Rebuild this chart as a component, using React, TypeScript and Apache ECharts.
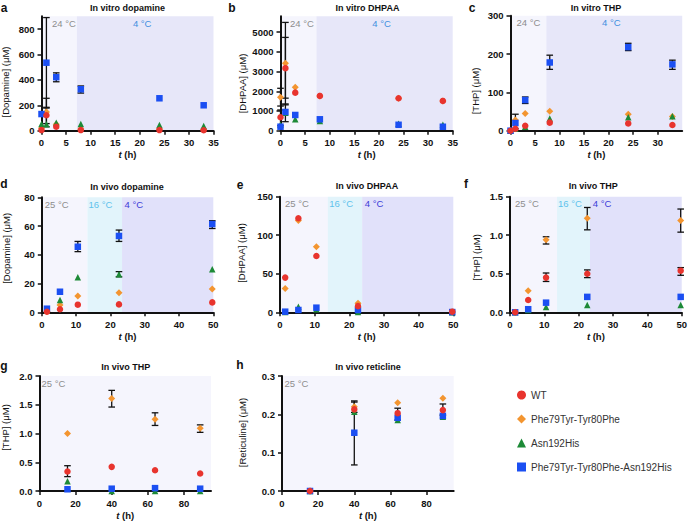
import React, { useEffect, useRef } from "react";
import * as echarts from "echarts";

const FONT = "'Liberation Sans', Arial, Helvetica, sans-serif";

// ---------- legend / series identity ----------
const seriesNames = ["WT", "Phe79Tyr-Tyr80Phe", "Asn192His", "Phe79Tyr-Tyr80Phe-Asn192His"];
const seriesColors = ["#e8342e", "#f39530", "#1d8a37", "#1b4ff2"];
const seriesSymbols = ["circle", "diamond", "triangle", "rect"];
const symbolSizes = [6.5, 7, 6.5, 6.5];
const drawOrder = [1, 2, 3, 0];

// ---------- time points ----------
const tVitro = [0, 1, 3, 8, 24, 33];
const tVivo = [1.5, 5.3, 10.5, 22.5, 49.7];
const tLong = [15.5, 40, 64, 89];

// ---------- tick labels ----------
const xTicksVitro = [0, 5, 10, 15, 20, 25, 30, 35];
const xTicksVitroC = [0, 5, 10, 15, 20, 25, 30];
const xTicksVivo = [0, 10, 20, 30, 40, 50];
const xTicksLong = [0, 20, 40, 60, 80];
const yTicksA = [0, 200, 400, 600, 800];
const yTicksB = [0, 1000, 2000, 3000, 4000, 5000];
const yTicksC = [0, 100, 200, 300];
const yTicksD = [0, 20, 40, 60, 80];
const yTicksE = [0, 50, 100, 150];
const yTicksF = [0, 0.5, 1.0, 1.5];
const yTicksG = [0, 0.5, 1.0, 1.5, 2.0];
const yTicksH = [0, 0.1, 0.2, 0.3];

// ---------- a: in vitro dopamine ----------
const aWT = [5, 122, 31, 5, 5, 4];
const aDouble = [20, 148, 50, 14, 14, 10];
const aAsn = [52, 50, 63, 52, 45, 37];
const aTriple = [131, 535, 421, 326, 255, 200];
const aErr = [[1, 178, 890], [1, 31, 255], [1, 56, 184], [3, 385, 455], [8, 296, 352]];

// ---------- b: in vitro DHPAA ----------
const bWT = [680, 3170, 1930, 1763, 1646, 1509];
const bDouble = [1697, 3425, 2205, 1763, 1646, 1509];
const bAsn = [300, 915, 578, 493, 350, 300];
const bTriple = [203, 950, 797, 578, 300, 200];
const bErr = [[1, 1310, 5490], [1, 1650, 4730], [1, 457, 1357], [0, 1250, 2150], [0, 250, 1050]];

// ---------- c: in vitro THP ----------
const cWT = [0, 5, 13, 21, 19, 15];
const cDouble = [0, 28, 45, 51, 43, 37];
const cAsn = [0, 5, 10, 32, 35, 38];
const cTriple = [0, 20, 80, 178, 218, 173];
const cErr = [[1, 5, 43], [3, 71, 88], [8, 160, 197], [24, 209, 228], [33, 160, 184]];

// ---------- d: in vivo dopamine ----------
const dWT = [0.4, 2.1, 5.3, 5.5, 6.9];
const dDouble = [0.5, 5.1, 11.3, 13.6, 16.2];
const dAsn = [1, 8.6, 24.3, 26.5, 29.9];
const dTriple = [2.5, 14.3, 45.6, 53.1, 61.4];
const dErr = [[10.5, 42.2, 49.3], [22.5, 49.3, 57.2], [22.5, 24.7, 28.3], [49.7, 58.3, 63.7]];

// ---------- e: in vivo DHPAA ----------
const eWT = [45, 122, 73, 8, 0.8];
const eDouble = [31, 119, 85, 11.6, 0.5];
const eAsn = [0.5, 7.3, 3.9, 0.5, 0];
const eTriple = [0.8, 3, 6, 3, 0.3];
const eErr: number[][] = [];

// ---------- f: in vivo THP ----------
const fWT = [0, 0.16, 0.45, 0.5, 0.54];
const fDouble = [0, 0.28, 0.94, 1.22, 1.19];
const fAsn = [0, 0.03, 0.07, 0.095, 0.095];
const fTriple = [0, 0.04, 0.125, 0.2, 0.2];
const fErr = [[10.5, 0.886, 0.98], [22.5, 1.07, 1.36], [49.7, 1.04, 1.34], [10.5, 0.4, 0.51], [22.5, 0.45, 0.55], [49.7, 0.48, 0.58]];

// ---------- g: in vivo THP (long) ----------
const gWT = [0.34, 0.42, 0.36, 0.305];
const gDouble = [1.0, 1.61, 1.25, 1.09];
const gAsn = [0.17, 0, 0, 0];
const gTriple = [0.03, 0.04, 0.05, 0.04];
const gErr = [[15.5, 0.25, 0.44], [40, 1.46, 1.75], [64, 1.14, 1.36], [89, 1.02, 1.15]];

// ---------- h: in vivo reticuline ----------
const hWT = [0, 0.213, 0.203, 0.211];
const hDouble = [0, 0.22, 0.23, 0.242];
const hAsn = [0, 0.207, 0.185, 0.194];
const hTriple = [0, 0.152, 0.191, 0.196];
const hErr = [[40, 0.068, 0.235], [40, 0.205, 0.232], [64, 0.185, 0.216], [89, 0.198, 0.227]];

// ---------- temperature zones ----------
const zonesA = [[0, 7.2], [7.2, 35]];
const zonesB = [[0, 7.3], [7.3, 35]];
const zonesC = [[0, 7.3], [7.3, 35]];
const zonesD = [[0, 13.3], [13.3, 23.4], [23.4, 50]];
const zonesE = [[0, 13.8], [13.8, 23.7], [23.7, 50]];
const zonesF = [[0, 13.7], [13.7, 23.3], [23.3, 50]];
const zonesLong = [[0, 95]];
const vitroLabels = ["24 °C", "4 °C"];
const vivoLabels = ["25 °C", "16 °C", "4 °C"];
const longLabels = ["25 °C"];

const vitroZoneStyle = [
  { fill: "#f5f5fd", color: "#8d8d8d", align: "left" },
  { fill: "#e7e7f9", color: "#3f8fdf", align: "center" },
];
const vivoZoneStyle = [
  { fill: "#f5f5fd", color: "#8d8d8d", align: "left" },
  { fill: "#e2f4fb", color: "#5ec2ec", align: "left" },
  { fill: "#e1e1fa", color: "#3c3cd8", align: "left" },
];
const longZoneStyle = [{ fill: "#f5f5fd", color: "#8d8d8d", align: "left" }];

const panels = [
  { letter: "a", title: "In vitro dopamine", yName: "[Dopamine] (μM)", grid: [41.5, 16.3, 172, 114.4], xMax: 35, xTicks: xTicksVitro, yMax: 900, yTicks: yTicksA, dec: 0, t: tVitro, values: [aWT, aDouble, aAsn, aTriple], err: aErr, zones: zonesA, zoneLabels: vitroLabels, zoneStyle: vitroZoneStyle, dx: [10.5, -3], titlePos: [127.5, 7.5], letterPos: [4, 8], yNamePos: [5, 82] },
  { letter: "b", title: "In vitro DHPAA", yName: "[DHPAA] (μM)", grid: [280.5, 16.3, 172.2, 114.4], xMax: 35, xTicks: xTicksVitro, yMax: 5800, yTicks: yTicksB, dec: 0, t: tVitro, values: [bWT, bDouble, bAsn, bTriple], err: bErr, zones: zonesB, zoneLabels: vitroLabels, zoneStyle: vitroZoneStyle, dx: [9.5, -3], titlePos: [367.5, 7.5], letterPos: [232, 8], yNamePos: [242.5, 83.5] },
  { letter: "c", title: "In vitro THP", yName: "[THP] (μM)", grid: [510.5, 15.7, 171.7, 115], xMax: 35, xTicks: xTicksVitroC, yMax: 300, yTicks: yTicksC, dec: 0, t: tVitro, values: [cWT, cDouble, cAsn, cTriple], err: cErr, zones: zonesC, zoneLabels: vitroLabels, zoneStyle: vitroZoneStyle, dx: [6, -3], titlePos: [596, 7.5], letterPos: [472, 8], yNamePos: [475, 91] },
  { letter: "d", title: "In vivo dopamine", yName: "[Dopamine] (μM)", grid: [41.8, 197.3, 171.5, 115], xMax: 50, xTicks: xTicksVivo, yMax: 80, yTicks: yTicksD, dec: 0, t: tVivo, values: [dWT, dDouble, dAsn, dTriple], err: dErr, zones: zonesD, zoneLabels: vivoLabels, zoneStyle: vivoZoneStyle, dx: [3, 1, 2.5], titlePos: [127, 187], letterPos: [4, 184], yNamePos: [6, 248.3] },
  { letter: "e", title: "In vivo DHPAA", yName: "[DHPAA] (μM)", grid: [280, 196.7, 173.3, 115.6], xMax: 50, xTicks: xTicksVivo, yMax: 150, yTicks: yTicksE, dec: 0, t: tVivo, values: [eWT, eDouble, eAsn, eTriple], err: eErr, zones: zonesE, zoneLabels: vivoLabels, zoneStyle: vivoZoneStyle, dx: [5, 1.3, 2.7], titlePos: [367, 186], letterPos: [240, 185], yNamePos: [241, 253] },
  { letter: "f", title: "In vivo THP", yName: "[THP] (μM)", grid: [510, 196.7, 174, 115.6], xMax: 50, xTicks: xTicksVivo, yMax: 1.5, yTicks: yTicksF, dec: 1, t: tVivo, values: [fWT, fDouble, fAsn, fTriple], err: fErr, zones: zonesF, zoneLabels: vivoLabels, zoneStyle: vivoZoneStyle, dx: [5, 1, 2.7], titlePos: [593.3, 186], letterPos: [466, 184], yNamePos: [476, 257.5] },
  { letter: "g", title: "In vivo THP", yName: "[THP] (μM)", grid: [39.5, 376, 171.5, 115], xMax: 95, xTicks: xTicksLong, yMax: 2.0, yTicks: yTicksG, dec: 1, t: tLong, values: [gWT, gDouble, gAsn, gTriple], err: gErr, zones: zonesLong, zoneLabels: longLabels, zoneStyle: longZoneStyle, dx: [2], titlePos: [125.8, 366.7], letterPos: [4, 366], yNamePos: [5.5, 427.5] },
  { letter: "h", title: "In vivo reticline", yName: "[Reticuline] (μM)", grid: [282, 376, 171.7, 115], xMax: 95, xTicks: xTicksLong, yMax: 0.3, yTicks: yTicksH, dec: 1, t: tLong, values: [hWT, hDouble, hAsn, hTriple], err: hErr, zones: zonesLong, zoneLabels: longLabels, zoneStyle: longZoneStyle, dx: [2.5], titlePos: [368, 366.7], letterPos: [240, 365], yNamePos: [242, 432.5] },
];

function buildOption() {
  const grid: any[] = [];
  const xAxis: any[] = [];
  const yAxis: any[] = [];
  const series: any[] = [];
  const elements: any[] = [];
  const axisColor = "#111";
  const labelStyle = { fontSize: 9.5, fontWeight: "bold", color: axisColor, fontFamily: FONT };

  panels.forEach((p, i) => {
    grid.push({ left: p.grid[0], top: p.grid[1], width: p.grid[2], height: p.grid[3], containLabel: false });
    xAxis.push({
      gridIndex: i, type: "value", min: 0, max: p.xMax, z: 1,
      axisLine: { show: true, onZero: false, lineStyle: { color: axisColor, width: 2 } },
      axisTick: { show: true, length: 4, lineStyle: { color: axisColor, width: 1.5 }, customValues: p.xTicks },
      axisLabel: { ...labelStyle, margin: 7, customValues: p.xTicks },
      splitLine: { show: false },
      name: "{i|t} (h)", nameLocation: "middle", nameGap: 19,
      nameTextStyle: { ...labelStyle, rich: { i: { ...labelStyle, fontStyle: "italic" } } },
    });
    yAxis.push({
      gridIndex: i, type: "value", min: 0, max: p.yMax, z: 1,
      axisLine: { show: true, onZero: false, lineStyle: { color: axisColor, width: 2 } },
      axisTick: { show: true, length: 4, lineStyle: { color: axisColor, width: 1.5 }, customValues: p.yTicks },
      axisLabel: { ...labelStyle, margin: 7, customValues: p.yTicks, formatter: (v: number) => v.toFixed(p.dec) },
      splitLine: { show: false },
    });

    // temperature zones (background)
    series.push({
      type: "custom", xAxisIndex: i, yAxisIndex: i, z: 0, silent: true, clip: false,
      data: p.zones.map((zz, k) => [zz[0], zz[1], k]),
      encode: { x: [0, 1] },
      renderItem: (params: any, api: any) => {
        const k = api.value(2);
        const cs = params.coordSys;
        const x0 = api.coord([api.value(0), 0])[0];
        const x1 = api.coord([api.value(1), 0])[0];
        const st = p.zoneStyle[k];
        const dx = p.dx[k];
        const tx = st.align === "center" ? (x0 + x1) / 2 + dx : x0 + dx;
        return {
          type: "group",
          children: [
            { type: "rect", shape: { x: x0, y: cs.y, width: x1 - x0, height: cs.height }, style: { fill: st.fill } },
            {
              type: "text", x: tx, y: cs.y + 2,
              style: { text: p.zoneLabels[k], fill: st.color, font: `9.5px ${FONT}`, align: st.align, verticalAlign: "top", textAlign: st.align, textVerticalAlign: "top" },
            },
          ],
        };
      },
    });

    // error bars
    if (p.err.length) {
      series.push({
        type: "custom", xAxisIndex: i, yAxisIndex: i, z: 2, silent: true, clip: false,
        data: p.err,
        encode: { x: 0, y: [1, 2] },
        renderItem: (params: any, api: any) => {
          const x = api.value(0);
          const a = api.coord([x, api.value(1)]);
          const b = api.coord([x, api.value(2)]);
          const w = 3.3;
          const style = { stroke: "#111", lineWidth: 1.3 };
          return {
            type: "group",
            children: [
              { type: "line", shape: { x1: a[0], y1: a[1], x2: b[0], y2: b[1] }, style },
              { type: "line", shape: { x1: a[0] - w, y1: a[1], x2: a[0] + w, y2: a[1] }, style },
              { type: "line", shape: { x1: b[0] - w, y1: b[1], x2: b[0] + w, y2: b[1] }, style },
            ],
          };
        },
      });
    }

    // data series
    drawOrder.forEach((s) => {
      const vals = p.values[s];
      series.push({
        type: "scatter", name: seriesNames[s], xAxisIndex: i, yAxisIndex: i, z: 3, clip: false,
        symbol: seriesSymbols[s], symbolSize: symbolSizes[s],
        itemStyle: { color: seriesColors[s], opacity: 1 },
        data: p.t.map((tt, j) => [tt, vals[j]]).filter((d) => d[1] != null),
      });
    });

    elements.push({
      type: "text", x: p.titlePos[0], y: p.titlePos[1],
      style: { text: p.title, font: `bold 9px ${FONT}`, fill: "#111", align: "center", verticalAlign: "middle", textAlign: "center", textVerticalAlign: "middle" },
    });
    elements.push({
      type: "text", x: p.letterPos[0], y: p.letterPos[1],
      style: { text: p.letter, font: `bold 12px ${FONT}`, fill: "#111", align: "center", verticalAlign: "middle", textAlign: "center", textVerticalAlign: "middle" },
    });
    elements.push({
      type: "text", x: p.yNamePos[0], y: p.yNamePos[1], rotation: Math.PI / 2,
      style: { text: p.yName, font: `9.5px ${FONT}`, fill: "#111", align: "center", verticalAlign: "middle", textAlign: "center", textVerticalAlign: "middle" },
    });
  });

  return {
    animation: false,
    backgroundColor: "#fff",
    grid, xAxis, yAxis, series,
    graphic: { elements },
    legend: {
      orient: "vertical", left: 512, top: 385, itemWidth: 9, itemHeight: 9, itemGap: 14,
      selectedMode: false,
      data: seriesNames.map((n, k) => ({ name: n, icon: seriesSymbols[k] })),
      textStyle: { fontSize: 10, color: "#333", fontFamily: FONT },
    },
  };
}

export default function App() {
  const ref = useRef<HTMLDivElement>(null);
  useEffect(() => {
    if (!ref.current) return;
    const chart = echarts.init(ref.current, undefined, { renderer: "svg" });
    chart.setOption(buildOption() as any);
    return () => chart.dispose();
  }, []);
  return <div ref={ref} style={{ position: "absolute", left: 0, top: 0, width: 690, height: 523 }} />;
}
